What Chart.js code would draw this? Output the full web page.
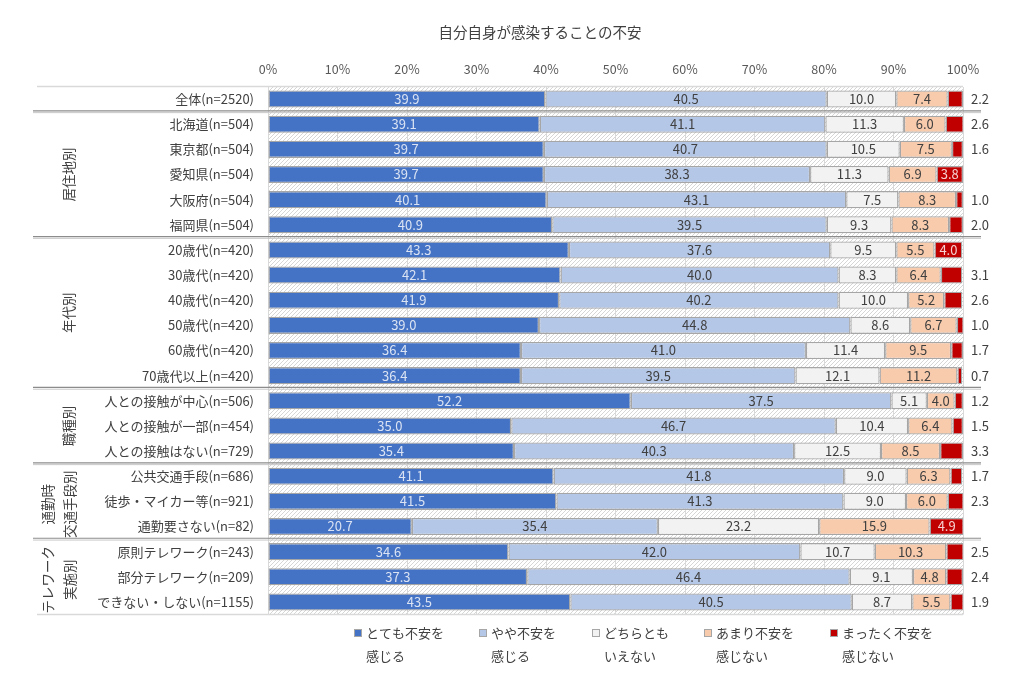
<!DOCTYPE html>
<html><head><meta charset="utf-8">
<script src="https://cdn.jsdelivr.net/npm/chart.js@4.4.1/dist/chart.umd.min.js"></script>
<style>html,body{margin:0;padding:0;background:#fff}#wrap{width:1024px;height:684px;position:relative}</style>
</head><body><div id="wrap"><canvas id="c"></canvas></div>
<script>
const chartTitle = '自分自身が感染することの不安';
const categories = ['全体(n=2520)','北海道(n=504)','東京都(n=504)','愛知県(n=504)','大阪府(n=504)','福岡県(n=504)',
  '20歳代(n=420)','30歳代(n=420)','40歳代(n=420)','50歳代(n=420)','60歳代(n=420)','70歳代以上(n=420)',
  '人との接触が中心(n=506)','人との接触が一部(n=454)','人との接触はない(n=729)',
  '公共交通手段(n=686)','徒歩・マイカー等(n=921)','通勤要さない(n=82)',
  '原則テレワーク(n=243)','部分テレワーク(n=209)','できない・しない(n=1155)'];
const veryAnxious     = [39.9,39.1,39.7,39.7,40.1,40.9,43.3,42.1,41.9,39.0,36.4,36.4,52.2,35.0,35.4,41.1,41.5,20.7,34.6,37.3,43.5];
const somewhatAnxious = [40.5,41.1,40.7,38.3,43.1,39.5,37.6,40.0,40.2,44.8,41.0,39.5,37.5,46.7,40.3,41.8,41.3,35.4,42.0,46.4,40.5];
const neither         = [10.0,11.3,10.5,11.3,7.5,9.3,9.5,8.3,10.0,8.6,11.4,12.1,5.1,10.4,12.5,9.0,9.0,23.2,10.7,9.1,8.7];
const notVery         = [7.4,6.0,7.5,6.9,8.3,8.3,5.5,6.4,5.2,6.7,9.5,11.2,4.0,6.4,8.5,6.3,6.0,15.9,10.3,4.8,5.5];
const notAtAll        = [2.2,2.6,1.6,3.8,1.0,2.0,4.0,3.1,2.6,1.0,1.7,0.7,1.2,1.5,3.3,1.7,2.3,4.9,2.5,2.4,1.9];
const seriesNames = [['とても不安を','感じる'],['やや不安を','感じる'],['どちらとも','いえない'],['あまり不安を','感じない'],['まったく不安を','感じない']];
const seriesColors = ['#4472c4','#b4c7e7','#f2f2f2','#f8cbad','#c00000'];
const xTickValues = [0,10,20,30,40,50,60,70,80,90,100];
const groupLabels = [
  {lines:['居住地別'], first:1, last:5},
  {lines:['年代別'], first:6, last:11},
  {lines:['職種別'], first:12, last:14},
  {lines:['通勤時','交通手段別'], first:15, last:17},
  {lines:['テレワーク','実施別'], first:18, last:20}
];
const separatorsAfter = [0,5,11,14,17];

const FONT = '"Noto Sans CJK JP","Noto Sans",sans-serif';
const seriesData = [veryAnxious, somewhatAnxious, neither, notVery, notAtAll];

function makeHatch(){
  const p = document.createElement('canvas'); p.width = 4; p.height = 4;
  const g = p.getContext('2d');
  g.fillStyle = '#ffffff'; g.fillRect(0,0,4,4);
  g.fillStyle = '#d6d6d6';
  g.fillRect(0,3,1,1); g.fillRect(1,2,1,1); g.fillRect(2,1,1,1); g.fillRect(3,0,1,1);
  return p;
}

const bgPlugin = {
  id:'bg',
  beforeDraw(chart){
    const {ctx, chartArea:a} = chart;
    ctx.save();
    ctx.fillStyle = ctx.createPattern(makeHatch(),'repeat');
    ctx.fillRect(a.left, a.top, a.right-a.left, a.bottom-a.top);
    ctx.restore();
  }
};

const labelPlugin = {
  id:'vals',
  afterDatasetsDraw(chart){
    const {ctx, chartArea:a} = chart;
    ctx.save();
    ctx.font = '13px ' + FONT;
    ctx.textBaseline = 'middle';
    chart.data.datasets.forEach((ds, di) => {
      const meta = chart.getDatasetMeta(di);
      meta.data.forEach((el, i) => {
        const v = ds.data[i];
        const txt = v.toFixed(1);
        if (di === 4 && v < 3.5) {
          ctx.fillStyle = '#404040'; ctx.textAlign = 'left';
          ctx.fillText(txt, a.right + 8, el.y);
        } else {
          ctx.fillStyle = di === 0 ? '#dae3f3' : (di === 4 ? '#f6d0d0' : '#404040');
          ctx.textAlign = 'center';
          ctx.fillText(txt, (el.x + el.base)/2, el.y);
        }
      });
    });
    ctx.restore();
  }
};

const decoPlugin = {
  id:'deco',
  afterDraw(chart){
    const {ctx, chartArea:a} = chart;
    const ys = chart.scales.y;
    const half = (ys.getPixelForValue(1) - ys.getPixelForValue(0))/2;
    ctx.save();
    // title
    ctx.fillStyle = '#404040';
    ctx.font = '14.5px ' + FONT;
    ctx.textAlign = 'center'; ctx.textBaseline = 'middle';
    ctx.fillText(chartTitle, 540, 32);
    // top & bottom lines
    ctx.strokeStyle = '#d9d9d9'; ctx.lineWidth = 1.5;
    let yt = ys.getPixelForValue(0) - half;
    ctx.beginPath(); ctx.moveTo(37, yt); ctx.lineTo(a.right, yt); ctx.stroke();
    let yb = ys.getPixelForValue(categories.length-1) + half;
    ctx.beginPath(); ctx.moveTo(37, yb); ctx.lineTo(a.right, yb); ctx.stroke();
    // separators
    separatorsAfter.forEach(i => {
      const y = ys.getPixelForValue(i) + half;
      ctx.strokeStyle = '#8c8c8c'; ctx.lineWidth = 1.2;
      ctx.beginPath(); ctx.moveTo(33, y-0.8); ctx.lineTo(981, y-0.8); ctx.stroke();
      ctx.strokeStyle = '#c8c8c8'; ctx.lineWidth = 1;
      ctx.beginPath(); ctx.moveTo(33, y+1); ctx.lineTo(981, y+1); ctx.stroke();
    });
    // group labels
    ctx.fillStyle = '#404040';
    ctx.font = '13.5px ' + FONT;
    ctx.textAlign = 'center'; ctx.textBaseline = 'middle';
    groupLabels.forEach(g => {
      const yc = (ys.getPixelForValue(g.first) + ys.getPixelForValue(g.last))/2 + (g.lines.length > 1 ? 3 : 0);
      const xs = g.lines.length > 1 ? [48, 70] : [69];
      g.lines.forEach((ln, k) => {
        ctx.save();
        ctx.translate(xs[k], yc);
        ctx.rotate(-Math.PI/2);
        ctx.fillText(ln, 0, 0);
        ctx.restore();
      });
    });
    // legend
    const lx = [354, 479, 592, 704, 830];
    ctx.font = '13px ' + FONT;
    ctx.textAlign = 'left'; ctx.textBaseline = 'middle';
    seriesNames.forEach((nm, k) => {
      ctx.fillStyle = seriesColors[k];
      ctx.fillRect(lx[k], 629, 8, 8);
      ctx.strokeStyle = '#a6a6a6'; ctx.lineWidth = 1;
      ctx.strokeRect(lx[k]+0.5, 629.5, 7, 7);
      ctx.fillStyle = '#404040';
      ctx.fillText(nm[0], lx[k] + 12, 633);
      ctx.fillText(nm[1], lx[k] + 12, 656);
    });
    ctx.restore();
  }
};

new Chart(document.getElementById('c'), {
  type:'bar',
  data:{
    labels: categories,
    datasets: seriesData.map((d,k) => ({
      label: seriesNames[k].join(''),
      data: d,
      backgroundColor: seriesColors[k],
      borderColor: '#a6a6a6',
      borderWidth: 1.3,
      borderSkipped: false,
      barPercentage: 0.68,
      categoryPercentage: 1
    }))
  },
  options:{
    indexAxis:'y',
    responsive:true,
    maintainAspectRatio:false,
    animation:false,
    layout:{padding:{left:0, right:61, top:0, bottom:69.5}},
    plugins:{legend:{display:false}, tooltip:{enabled:false}, title:{display:false}},
    scales:{
      x:{
        position:'top', stacked:true, min:0, max:100,
        afterFit(s){ s.height = 86.5; },
        afterBuildTicks(s){ s.ticks = xTickValues.map(v => ({value:v})); },
        grid:{color:'#d9d9d9', drawTicks:false, lineWidth:1},
        border:{display:false},
        ticks:{padding:10, font:{size:12.5, family:FONT}, color:'#595959', callback:v => v + '%'}
      },
      y:{
        stacked:true,
        afterFit(s){ s.width = 268; },
        grid:{display:false},
        border:{display:false},
        ticks:{padding:6, font:{size:13, family:FONT}, color:'#404040', autoSkip:false}
      }
    }
  },
  plugins:[bgPlugin, labelPlugin, decoPlugin]
});
</script></body></html>
